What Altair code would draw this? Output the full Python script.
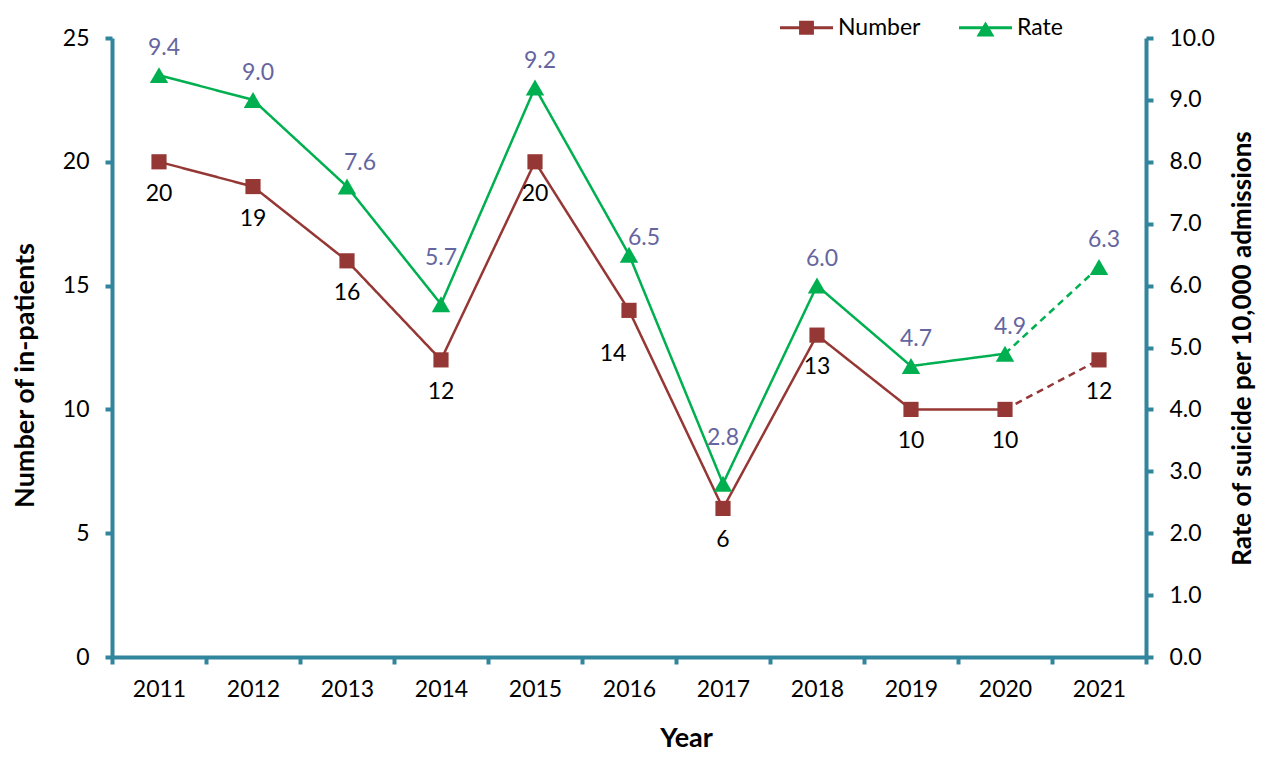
import altair as alt
import pandas as pd

years = [2011, 2012, 2013, 2014, 2015, 2016, 2017, 2018, 2019, 2020, 2021]
number = [20, 19, 16, 12, 20, 14, 6, 13, 10, 10, 12]
rate = [9.4, 9.0, 7.6, 5.7, 9.2, 6.5, 2.8, 6.0, 4.7, 4.9, 6.3]
series = ["Number", "Rate"]
left_ticks = [0, 5, 10, 15, 20, 25]
right_ticks = [0, 1, 2, 3, 4, 5, 6, 7, 8, 9, 10]

df = pd.DataFrame({"year": years, "number": number, "rate": rate})
solid = df[df.year <= 2020].assign(part="reported")
dashed = df[df.year >= 2020].assign(part="latest")
lines = pd.concat([solid, dashed], ignore_index=True)
legend_df = pd.DataFrame({"series": series})

BROWN = "#953735"
GREEN = "#00B050"
TEAL = "#31859C"
LABEL = "#65659F"
FONT = "Lato"
FS = 23

x = alt.X(
    "year:O",
    title="Year",
    scale=alt.Scale(type="band", paddingInner=0, paddingOuter=0),
    axis=alt.Axis(labelAngle=0, tickBand="extent", labelPadding=14,
                  titleFontSize=27, titleX=574, titleY=89, titleBaseline="alphabetic"),
)

y_num = alt.Y(
    "number:Q",
    title="Number of in-patients",
    scale=alt.Scale(domain=[0, 25], nice=False, zero=True),
    axis=alt.Axis(orient="left", values=left_ticks, labelPadding=16,
                  titleX=-87, titleY=337, titleAngle=270, titleBaseline="middle",
                  titleAlign="center"),
)
y_rate = alt.Y(
    "rate:Q",
    title="Rate of suicide per 10,000 admissions",
    scale=alt.Scale(domain=[0, 10], nice=False, zero=True),
    axis=alt.Axis(orient="right", values=right_ticks, format=".1f", labelPadding=16,
                  titleX=96, titleY=310, titleAngle=270, titleBaseline="middle",
                  titleAlign="center", titleFontSize=26),
)

dash = alt.StrokeDash(
    "part:N",
    scale=alt.Scale(domain=["reported", "latest"], range=[[1, 0], [7, 5]]),
    legend=None,
)


def pick(chart, ys):
    return chart.transform_filter(alt.FieldOneOfPredicate(field="year", oneOf=ys))


def skip(chart, ys):
    return chart.transform_filter(~alt.FieldOneOfPredicate(field="year", oneOf=ys))


# Number series (left axis)
n_line = alt.Chart(lines).mark_line(color=BROWN, strokeWidth=2.5).encode(x=x, y=y_num, strokeDash=dash)
n_pts = alt.Chart(df).mark_point(shape="square", filled=True, color=BROWN, size=230, opacity=1).encode(x=x, y=y_num)
n_txt = skip(alt.Chart(df).mark_text(fontSize=FS, font=FONT, color="black", dy=32), [2016]).encode(
    x=x, y=y_num, text="number:Q")
n_txt2 = pick(alt.Chart(df).mark_text(fontSize=FS, font=FONT, color="black", dx=-16, dy=44), [2016]).encode(
    x=x, y=y_num, text="number:Q")
num_layer = alt.layer(n_line, n_pts, n_txt, n_txt2)

# Rate series (right axis)
r_line = alt.Chart(lines).mark_line(color=GREEN, strokeWidth=2.5).encode(x=x, y=y_rate, strokeDash=dash)
r_pts = alt.Chart(df).mark_point(shape="triangle-up", filled=True, color=GREEN, size=340, opacity=1).encode(x=x, y=y_rate)
rtext = alt.Text("rate:Q", format=".1f")
r_txt = skip(alt.Chart(df).mark_text(fontSize=FS, font=FONT, color=LABEL, dx=5, dy=-27),
             [2013, 2014, 2016, 2017]).encode(x=x, y=y_rate, text=rtext)
r_txt_hi = pick(alt.Chart(df).mark_text(fontSize=FS, font=FONT, color=LABEL, dx=0, dy=-46),
                [2014, 2017]).encode(x=x, y=y_rate, text=rtext)
r_txt_13 = pick(alt.Chart(df).mark_text(fontSize=FS, font=FONT, color=LABEL, dx=13, dy=-24),
                [2013]).encode(x=x, y=y_rate, text=rtext)
r_txt_16 = pick(alt.Chart(df).mark_text(fontSize=FS, font=FONT, color=LABEL, dx=15, dy=-17),
                [2016]).encode(x=x, y=y_rate, text=rtext)
rate_layer = alt.layer(r_line, r_pts, r_txt, r_txt_hi, r_txt_13, r_txt_16)

NUM_PATH = "M-1,-0.055H1V0.055H-1Z M-0.28,-0.26H0.28V0.26H-0.28Z"
RATE_PATH = "M-1,-0.055H1V0.055H-1Z M0,-0.24L0.34,0.33H-0.34Z"

leg_def = alt.Legend(
    title=None, orient="none", legendX=668, legendY=-37, direction="horizontal",
    symbolSize=2809, symbolOpacity=1, symbolStrokeWidth=0,
    labelFontSize=FS, labelFont=FONT, labelColor="black", labelOffset=5,
    columnPadding=38, padding=0,
)
leg = alt.Chart(legend_df).mark_point(filled=True, opacity=0, size=2809).encode(
    shape=alt.Shape("series:N", scale=alt.Scale(domain=series, range=[NUM_PATH, RATE_PATH]), legend=leg_def),
    color=alt.Color("series:N", scale=alt.Scale(domain=series, range=[BROWN, GREEN]), legend=leg_def),
)

chart = (
    alt.layer(num_layer, rate_layer, leg)
    .resolve_scale(y="independent")
    .properties(
        width=1034,
        height=619,
        autosize=alt.AutoSizeParams(type="none"),
        padding={"left": 104, "top": 30, "right": 110, "bottom": 96},
    )
    .configure_view(stroke=None)
    .configure_axis(
        grid=False,
        domainColor=TEAL,
        domainWidth=4,
        tickColor=TEAL,
        tickWidth=4,
        tickSize=7,
        labelFont=FONT,
        labelFontSize=FS,
        labelColor="black",
        titleFont=FONT,
        titleFontSize=27,
        titleFontWeight="bold",
        titleColor="black",
    )
)

chart.save("out.html", embed_options={"renderer": "svg", "actions": False})
